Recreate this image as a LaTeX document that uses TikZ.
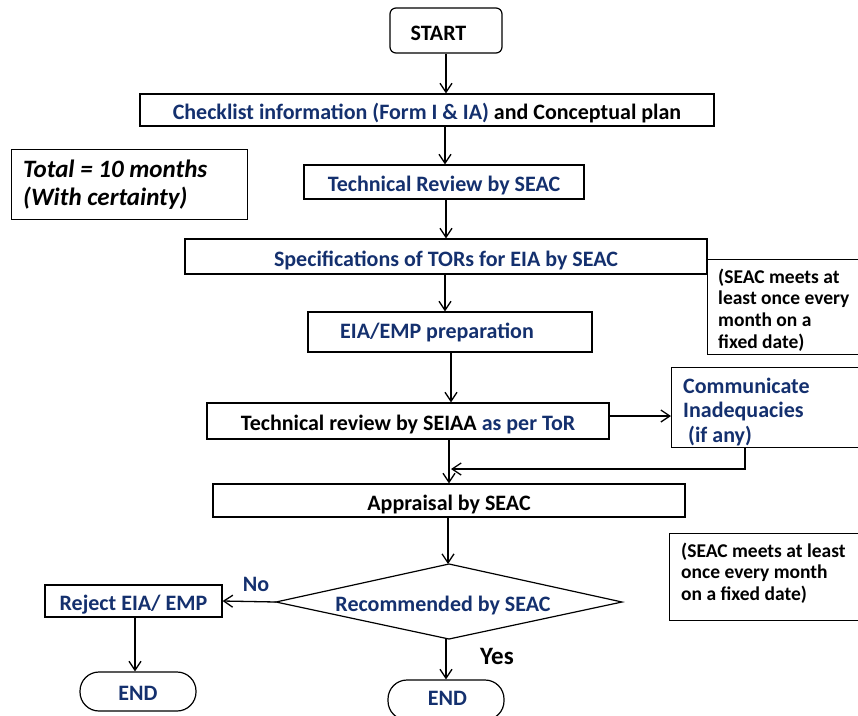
\documentclass[tikz,border=0pt]{standalone}
\usepackage{fontspec}
\setmainfont{Carlito}
\usetikzlibrary{arrows.meta,calc}
\definecolor{navy}{RGB}{20,48,110}
\tikzset{
  box/.style={draw, line width=1.2pt, rectangle, inner sep=0pt, text height=19pt, text depth=0pt, font=\bfseries\fontsize{22}{26}\selectfont},
  term/.style={draw, line width=1.2pt, rounded corners=19pt, inner sep=0pt, text height=18pt, text depth=0pt, font=\bfseries\fontsize{22}{26}\selectfont, text=navy},
  frame/.style={draw, line width=1.2pt, rectangle, inner sep=0pt, anchor=north west},
  note/.style={font=\bfseries\fontsize{19.5}{21.8}\selectfont, align=left, anchor=north west, inner sep=0pt},
  label/.style={font=\bfseries\fontsize{22}{26}\selectfont, anchor=base, inner sep=0pt},
  flow/.style={line width=1.3pt, -{Straight Barb[length=9pt,width=12pt,line width=1.3pt]}},
}
\begin{document}
\begin{tikzpicture}[x=1pt,y=-1pt]
\useasboundingbox (0,0) rectangle (858,715);
\clip (0,0) rectangle (858,715);
% nodes
\node[box, rounded corners=6pt, minimum width=112pt, minimum height=45pt] (start) at (446,30.5) {\hspace{-15pt}START};
\node[box, minimum width=574pt, minimum height=32pt] (check) at (427,110) {\textcolor{navy}{Checklist information (Form I \& IA)} and Conceptual plan};
\node[frame, minimum width=236pt, minimum height=70pt] (total) at (11,149) {};
\node[note, font=\bfseries\itshape\fontsize{25}{28}\selectfont] (totaltext) at (23,159.5) {Total = 10 months\\(With certainty)};
\node[box, text=navy, minimum width=280pt, minimum height=34pt] (tech) at (444,182) {Technical Review by SEAC};
\node[box, text=navy, minimum width=522pt, minimum height=35pt] (spec) at (446,256.5) {Specifications of TORs for EIA by SEAC};
\node[frame, minimum width=170pt, minimum height=95pt] (note1) at (707,259) {};
\node[note] (note1text) at (718,268.5) {(SEAC meets at\\least once every\\month on a\\fixed date)};
\node[box, text=navy, text height=12pt, minimum width=284pt, minimum height=40pt] (eia) at (450,332) {\hspace{-26pt}EIA/EMP preparation};
\node[box, minimum width=402pt, minimum height=36pt] (seiaa) at (408,421) {Technical review by SEIAA \textcolor{navy}{as per ToR}};
\node[frame, minimum width=200pt, minimum height=80pt] (comm) at (671,367) {};
\node[note, text=navy, font=\bfseries\fontsize{22}{24.5}\selectfont] (commtext) at (683,377.5) {Communicate\\Inadequacies\\\ (if any)};
\node[box, minimum width=472pt, minimum height=33pt] (appr) at (449,500.5) {Appraisal by SEAC};
\coordinate (dtop) at (449,564);
\coordinate (dright) at (622,602);
\coordinate (dbot) at (449,639);
\coordinate (dleft) at (276,602);
\draw[line width=1.2pt] (dtop) -- (dright) -- (dbot) -- (dleft) -- cycle;
\node[label, text=navy] (dec) at (443,611) {Recommended by SEAC};
\node[box, text=navy, minimum width=177pt, minimum height=32pt] (reject) at (133.5,601) {Reject EIA/ EMP};
\node[term, minimum width=116pt, minimum height=39pt] (end1) at (138,691.5) {END};
\node[term, text height=11.4pt, minimum width=116pt, minimum height=40pt] (end2) at (446,700) {\hspace{3pt}END};
\node[frame, minimum width=200pt, minimum height=87pt] (note2) at (669,533) {};
\node[note] (note2text) at (681,542.5) {(SEAC meets at least\\once every month\\on a fixed date)};
\node[label, text=navy] (nolab) at (256,591) {No};
\node[label, font=\bfseries\fontsize{25}{28}\selectfont] (yeslab) at (497,664) {Yes};
% connectors
\draw[flow] (start.south) -- (check.north -| start.south);
\draw[flow] (check.south -| 445,0) -- (tech.north -| 445,0);
\draw[flow] (tech.south -| 446,0) -- (spec.north -| 446,0);
\draw[flow] (spec.south -| 445,0) -- (eia.north -| 445,0);
\draw[flow] (eia.south -| 451,0) -- (seiaa.north -| 451,0);
\draw[flow] (seiaa.east |- 0,416) -- (comm.west |- 0,416);
\coordinate (ret) at (745,469);
\draw[flow] (comm.south -| ret) -- (ret) -- (451,469);
\draw[flow] (seiaa.south -| 449,0) -- (appr.north -| 449,0);
\draw[flow] (appr.south -| 448,0) -- (dtop -| 448,0);
\draw[flow] (dleft) -- (reject.east);
\draw[flow] (reject.south -| 135,0) -- (end1.north -| 135,0);
\draw[flow] (dbot -| 446,0) -- (end2.north);
\end{tikzpicture}
\end{document}
